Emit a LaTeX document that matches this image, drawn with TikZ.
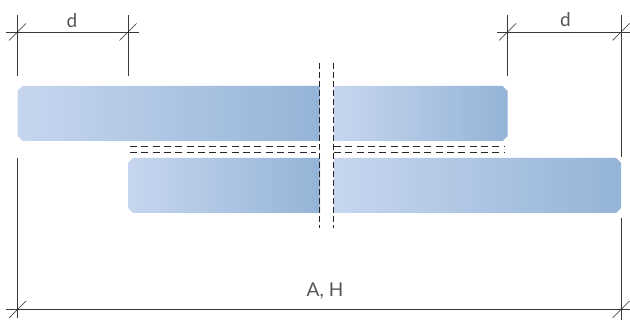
\documentclass[tikz,border=0pt]{standalone}
\usepackage{fontspec}
\setmainfont{Lato}
\definecolor{barL}{HTML}{C7D6EF}
\definecolor{barR}{HTML}{94B4D7}
\definecolor{dimc}{HTML}{3A3A3A}
\definecolor{labc}{HTML}{555555}
\tikzset{
  dimline/.style={draw=dimc,line width=0.9pt},
  extline/.style={draw=dimc,line width=0.9pt},
  slash/.style={draw=black!85,line width=0.7pt},
  cutv/.style={draw=black!85,line width=0.9pt,dash pattern=on 6pt off 3pt},
  cuth/.style={draw=black!85,line width=0.9pt,dash pattern=on 7pt off 4.3pt},
  lab/.style={text=labc,font=\fontsize{19}{19}\selectfont,inner sep=0pt}
}
% outer end chamfered, inner end square at the cut
\newcommand{\barleft}[4]{%
  \shade[left color=barL,right color=barR]
    (#1+5,#3) -- (#2,#3) -- (#2,#4) -- (#1+5,#4) -- (#1,#4-5) -- (#1,#3+5) -- cycle;}
\newcommand{\barright}[4]{%
  \shade[left color=barL,right color=barR]
    (#1,#3) -- (#2-5,#3) -- (#2,#3+5) -- (#2,#4-5) -- (#2-5,#4) -- (#1,#4) -- cycle;}
\begin{document}
\begin{tikzpicture}[x=1pt,y=-1pt]
\useasboundingbox (0,0) rectangle (630,320);
\fill[white] (0,0) rectangle (630,320);
% bars
\barleft{17.5}{320}{86}{141}
\barright{334}{507.5}{86}{141}
\barleft{128}{320}{158}{213}
\barright{334}{621}{158}{213}
% anchor points
\coordinate (LT) at (17.5,15);
\coordinate (LB) at (17.5,76);
\coordinate (MT) at (128,15);
\coordinate (MB) at (128,76);
\coordinate (RT) at (507.5,15);
\coordinate (RB) at (507.5,76);
\coordinate (ET) at (621,15);
\coordinate (EB) at (621,157);
\coordinate (E2T) at (621,218);
\coordinate (E2B) at (621,320);
\coordinate (L2T) at (17.5,158);
\coordinate (L2B) at (17.5,318);
% extension lines
\draw[extline] (LT) -- (LB);
\draw[extline] (MT) -- (MB);
\draw[extline] (RT) -- (RB);
\draw[extline] (ET) -- (EB);
\draw[extline] (E2T) -- (E2B);
\draw[extline] (L2T) -- (L2B);
% dimension lines
\coordinate (A1) at (6,32);
\coordinate (A2) at (139,32);
\coordinate (B1) at (497,32);
\coordinate (B2) at (630,32);
\coordinate (C1) at (6,309.5);
\coordinate (C2) at (630,309.5);
\draw[dimline] (A1) -- (A2);
\draw[dimline] (B1) -- (B2);
\draw[dimline] (C1) -- (C2);
% ticks
\foreach \x/\y in {17.5/32,128/32,507.5/32,621/32,17.5/309.5,621/309.5}
  \draw[slash] (\x-8.5,\y+8.5) -- (\x+8.5,\y-8.5);
% cut lines
\draw[cutv] (319.5,63) -- (319.5,228);
\draw[cutv] (333.5,63) -- (333.5,228);
\draw[cuth] (130,146.5) -- (316,146.5);
\draw[cuth] (130,152) -- (316,152);
\draw[cuth] (334,146.5) -- (505,146.5);
\draw[cuth] (334,152) -- (505,152);
% labels
\node[lab] (dl) at (72,21) {d};
\node[lab] (dr) at (565.5,20) {d};
\node[lab] (ah) at (325,291) {A, H};
\end{tikzpicture}
\end{document}
